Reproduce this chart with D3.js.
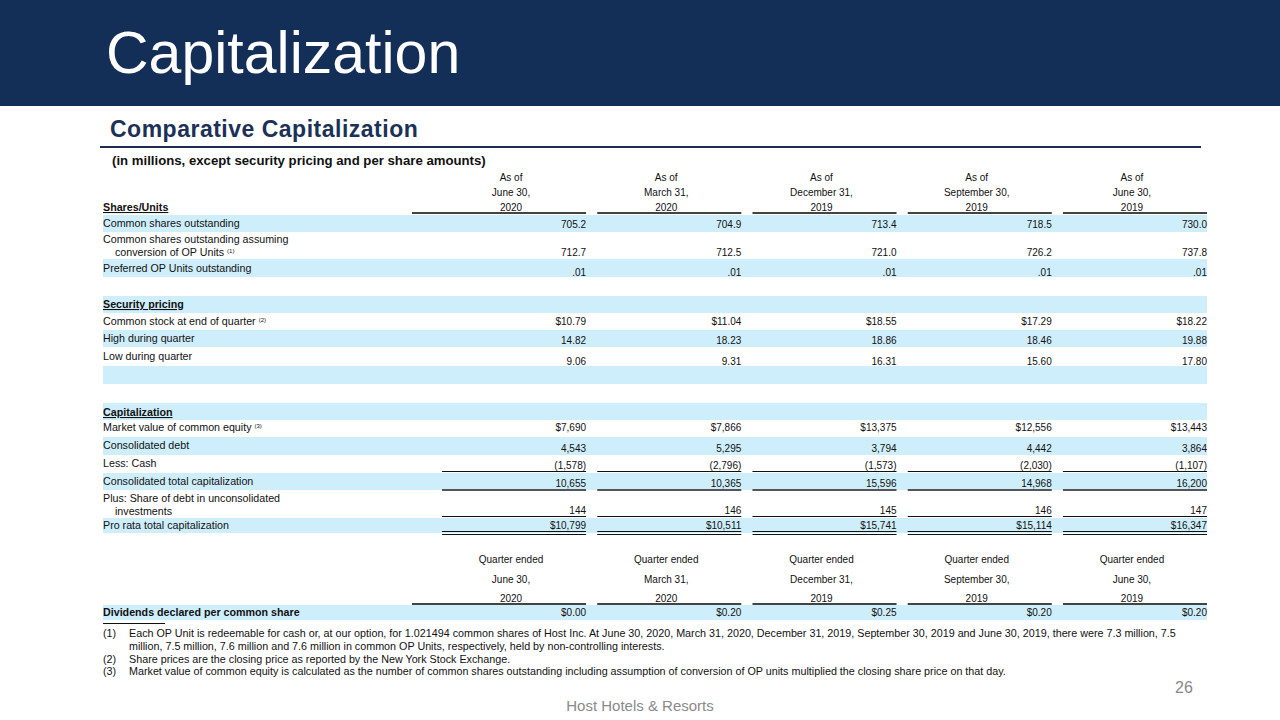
<!DOCTYPE html>
<html><head><meta charset="utf-8">
<script src="https://cdn.jsdelivr.net/npm/d3@7"></script>
<style>
body{margin:0;background:#fff}
svg{display:block}
text{font-family:"Liberation Sans",Arial,Helvetica,sans-serif}
</style>
</head><body>
<svg id="c" width="1280" height="720"></svg>
<script>
// ---------- data ----------
const asOfLabels = ["As of","As of","As of","As of","As of"];
const quarterLabels = ["Quarter ended","Quarter ended","Quarter ended","Quarter ended","Quarter ended"];
const periodDates = ["June 30,","March 31,","December 31,","September 30,","June 30,"];
const periodYears = ["2020","2020","2019","2019","2019"];

const commonShares = [705.2, 704.9, 713.4, 718.5, 730.0];
const sharesAssumingConversion = [712.7, 712.5, 721.0, 726.2, 737.8];
const preferredOPUnits = [0.01, 0.01, 0.01, 0.01, 0.01];

const closingPrice = [10.79, 11.04, 18.55, 17.29, 18.22];
const highPrice = [14.82, 18.23, 18.86, 18.46, 19.88];
const lowPrice = [9.06, 9.31, 16.31, 15.60, 17.80];

const marketValueEquity = [7690, 7866, 13375, 12556, 13443];
const consolidatedDebt = [4543, 5295, 3794, 4442, 3864];
const lessCash = [-1578, -2796, -1573, -2030, -1107];
const consolidatedTotalCap = [10655, 10365, 15596, 14968, 16200];
const shareOfUnconsolidatedDebt = [144, 146, 145, 146, 147];
const proRataTotalCap = [10799, 10511, 15741, 15114, 16347];

const dividendsPerShare = [0.00, 0.20, 0.25, 0.20, 0.20];

const footnotes = [
  ["(1)", "Each OP Unit is redeemable for cash or, at our option,  for 1.021494 common shares of Host Inc.  At June 30, 2020, March 31, 2020, December 31, 2019, September 30, 2019 and June 30, 2019, there were 7.3 million,  7.5"],
  ["", "million,  7.5 million,  7.6 million  and 7.6 million  in common  OP Units,  respectively, held by non-controlling interests."],
  ["(2)", "Share prices are the closing price as reported by the New York Stock Exchange."],
  ["(3)", "Market  value of common  equity is calculated as the number  of common  shares outstanding including assumption of conversion of OP units multiplied  the closing share price on that day."]
];

// ---------- formats ----------
const f1 = d3.format(".1f");
const f2 = d3.format(".2f");
const fc = d3.format(",");
const fmtUnits = v => f2(v).replace(/^0/, "");
const fmtDollar2 = v => "$" + f2(v);
const fmtDollarC = v => "$" + fc(v);
const fmtParen = v => v < 0 ? "(" + fc(-v) + ")" : fc(v);

// ---------- layout ----------
const svg = d3.select("#c");
const W = 1280;
const SHADE = "#cfeefb";
const NAVY = "#132e57";
const left = 103, right = 1207;

const x = d3.scaleBand().domain(d3.range(5)).range([442, 1207]).paddingInner(0.072);
const colRight = i => x(i) + x.bandwidth();
const colCenter = i => x(i) + x.bandwidth() / 2 - 3;

// header band
svg.append("rect").attr("x", 0).attr("y", 0).attr("width", W).attr("height", 106).attr("fill", NAVY);
svg.append("text").attr("x", 106).attr("y", 73).attr("fill", "#fff")
  .attr("font-size", 59).text("Capitalization");

svg.append("text").attr("x", 110).attr("y", 137).attr("fill", "#1b3157")
  .attr("font-size", 23).attr("font-weight", "bold").attr("letter-spacing", 0.5)
  .text("Comparative Capitalization");
svg.append("line").attr("x1", 100).attr("x2", 1201).attr("y1", 147).attr("y2", 147)
  .attr("stroke", "#1b2d4d").attr("stroke-width", 2);
svg.append("text").attr("x", 112).attr("y", 165).attr("fill", "#111")
  .attr("font-size", 13.2).attr("font-weight", "bold")
  .text("(in millions, except security  pricing and per share amounts)");

const g = svg.append("g");
const LFS = 10.7, VFS = 10;

function headerCols(lines, ys, ulY, firstExtend) {
  lines.forEach((arr, li) => {
    g.selectAll(null).data(arr).join("text")
      .attr("x", (d, i) => colCenter(i)).attr("y", ys[li])
      .attr("text-anchor", "middle").attr("font-size", VFS).attr("fill", "#111").text(d => d);
  });
  g.selectAll(null).data(d3.range(5)).join("line")
    .attr("x1", i => i === 0 ? x(i) - firstExtend : x(i)).attr("x2", i => colRight(i))
    .attr("y1", ulY).attr("y2", ulY).attr("stroke", "#444").attr("stroke-width", 2);
}

function band(top, h) {
  g.append("rect").attr("x", left).attr("y", top).attr("width", right - left).attr("height", h).attr("fill", SHADE);
}

function label(text, y, opts = {}) {
  const t = g.append("text").attr("x", left + (opts.indent || 0)).attr("y", y)
    .attr("font-size", LFS).attr("fill", "#111");
  if (opts.bold) t.attr("font-weight", "bold");
  if (opts.underline) t.attr("text-decoration", "underline");
  t.append("tspan").text(text);
  if (opts.sup) t.append("tspan").attr("font-size", 6).attr("dx", 3).attr("dy", -3).text(opts.sup);
}

function values(arr, fmt, y) {
  g.selectAll(null).data(arr).join("text")
    .attr("x", (d, i) => colRight(i)).attr("y", y).attr("text-anchor", "end")
    .attr("font-size", VFS).attr("fill", "#111").text(d => fmt(d));
}

function rule(y, color, w) {
  g.selectAll(null).data(d3.range(5)).join("line")
    .attr("x1", i => x(i)).attr("x2", i => colRight(i))
    .attr("y1", y).attr("y2", y).attr("stroke", color).attr("stroke-width", w);
}

// bands
[[215,17],[259,18],[296,17],[330,17],[366,18],[403,17],[437,18],[473,17],[518,15],[605,15]]
  .forEach(([t, h]) => band(t, h));

// column header (as of)
headerCols([asOfLabels, periodDates, periodYears], [181, 196, 211], 213, 30);
label("Shares/Units", 211, {bold: true, underline: true});

// Shares / Units
label("Common  shares outstanding", 227);
values(commonShares, f1, 228);
label("Common  shares outstanding assuming", 243);
label("conversion of OP Units", 256, {indent: 12, sup: "(1)"});
values(sharesAssumingConversion, f1, 256);
label("Preferred OP Units outstanding", 272);
values(preferredOPUnits, fmtUnits, 276);

// Security pricing
label("Security pricing", 308, {bold: true, underline: true});
label("Common  stock at end of quarter", 325, {sup: "(2)"});
values(closingPrice, fmtDollar2, 325);
label("High during quarter", 342);
values(highPrice, f2, 344);
label("Low during quarter", 360);
values(lowPrice, f2, 365);

// Capitalization
label("Capitalization", 416, {bold: true, underline: true});
label("Market  value of common  equity", 431, {sup: "(3)"});
values(marketValueEquity, fmtDollarC, 431);
label("Consolidated debt", 449);
values(consolidatedDebt, fc, 452);
label("Less: Cash", 467);
values(lessCash, fmtParen, 469);
rule(471.5, "#111", 1);
label("Consolidated total capitalization", 485);
values(consolidatedTotalCap, fc, 487);
rule(490, "#555", 2);
label("Plus:  Share of debt in unconsolidated", 502);
label("investments", 515, {indent: 12});
values(shareOfUnconsolidatedDebt, fc, 514);
rule(516.5, "#111", 1);
label("Pro rata total capitalization", 529);
values(proRataTotalCap, fmtDollarC, 529);
rule(531.5, "#111", 1);
rule(534.5, "#111", 1);

// Dividends
headerCols([quarterLabels, periodDates, periodYears], [563, 583, 602], 604, 30);
label("Dividends declared per common share", 616, {bold: true});
values(dividendsPerShare, fmtDollar2, 616);
g.append("line").attr("x1", left).attr("x2", 165).attr("y1", 623.5).attr("y2", 623.5)
  .attr("stroke", "#111").attr("stroke-width", 1);

// footnotes
const fnY = [637, 650, 663, 675];
footnotes.forEach(([num, txt], i) => {
  g.append("text").attr("x", 103).attr("y", fnY[i]).attr("font-size", 10.75).attr("fill", "#111").text(num);
  g.append("text").attr("x", 129).attr("y", fnY[i]).attr("font-size", 10.75).attr("fill", "#111").text(txt);
});

// footer
svg.append("text").attr("x", 1184).attr("y", 693).attr("text-anchor", "middle")
  .attr("font-size", 16).attr("fill", "#8a8a8a").text("26");
svg.append("text").attr("x", 640).attr("y", 711).attr("text-anchor", "middle")
  .attr("font-size", 15).attr("fill", "#8a8a8a").text("Host Hotels & Resorts");
</script>
</body></html>
